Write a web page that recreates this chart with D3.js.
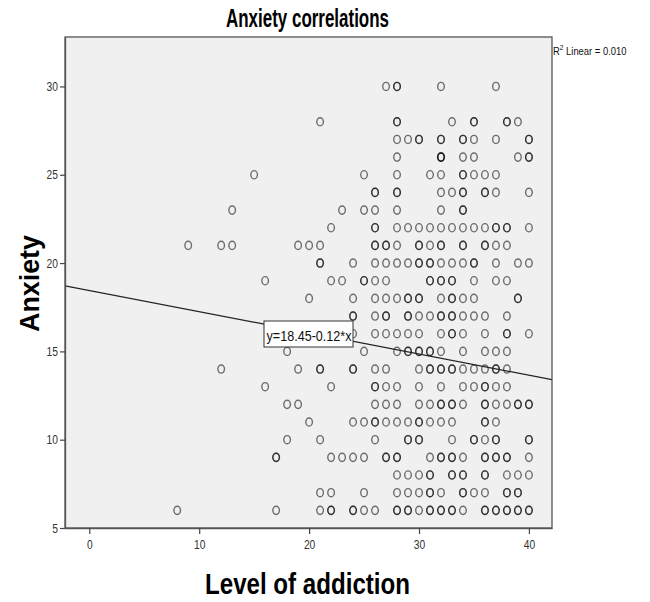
<!DOCTYPE html>
<html><head><meta charset="utf-8">
<script src="https://cdn.jsdelivr.net/npm/d3@7"></script>
<style>
body{margin:0;background:#fff;}
text{font-family:"Liberation Sans Narrow","Arial Narrow","Liberation Sans",sans-serif;}
</style></head>
<body><svg id="c" width="650" height="602"></svg>
<script>
const title = "Anxiety correlations";
const xLabel = "Level of addiction";
const yLabel = "Anxiety";
const xTicks = [0, 10, 20, 30, 40];
const yTicks = [5, 10, 15, 20, 25, 30];
const fitIntercept = 18.45;
const fitSlope = -0.12;
const fitLabel = "y=18.45-0.12*x";
const r2Label = "0.010";
// anxiety levels and the addiction scores observed at each level (repeats = overlapping cases)
const anxietyLevels = [30, 28, 27, 26, 25, 24, 23, 22, 21, 20, 19, 18, 17, 16, 15, 14, 13, 12, 11, 10, 9, 8, 7, 6];
const addictionByLevel = [
  [27, 28, 28, 32, 37],
  [21, 28, 28, 33, 35, 35, 38, 38, 39],
  [28, 29, 30, 30, 32, 32, 34, 34, 35, 37, 40, 40],
  [28, 32, 32, 32, 34, 35, 39, 40, 40],
  [15, 25, 28, 31, 32, 34, 34, 35, 36, 37],
  [26, 26, 28, 28, 32, 33, 34, 34, 36, 36, 37, 40],
  [13, 23, 25, 26, 28, 32, 34, 34],
  [22, 26, 26, 28, 29, 30, 31, 32, 33, 34, 35, 36, 37, 37, 38, 38, 40],
  [9, 12, 13, 19, 20, 21, 26, 26, 27, 27, 28, 30, 30, 31, 32, 32, 34, 34, 36, 36, 37, 38],
  [21, 21, 24, 26, 27, 28, 29, 30, 30, 31, 31, 32, 33, 34, 35, 35, 37, 39, 40],
  [16, 22, 23, 25, 25, 26, 27, 31, 31, 32, 32, 33, 33, 35, 37, 38],
  [20, 24, 26, 27, 28, 29, 29, 30, 30, 32, 33, 33, 34, 35, 39, 39],
  [24, 24, 26, 27, 27, 29, 29, 30, 31, 32, 32, 33, 33, 34, 35, 36, 38],
  [24, 26, 27, 28, 29, 30, 32, 33, 33, 34, 36, 38, 38, 40],
  [18, 25, 28, 29, 29, 30, 30, 31, 31, 32, 34, 36, 37, 38],
  [12, 19, 21, 21, 24, 24, 26, 27, 30, 31, 31, 32, 32, 33, 33, 34, 35, 36, 37, 37, 38],
  [16, 22, 26, 26, 27, 28, 30, 32, 34, 35, 36, 36, 37, 38],
  [18, 19, 26, 27, 28, 30, 31, 32, 32, 33, 33, 34, 36, 36, 37, 38, 39, 39, 40, 40],
  [20, 24, 25, 26, 26, 27, 28, 29, 30, 30, 31, 32, 33, 36, 36, 37],
  [18, 21, 26, 29, 29, 30, 30, 33, 35, 35, 36, 37, 37, 40, 40],
  [17, 17, 22, 23, 24, 25, 27, 27, 28, 28, 31, 32, 32, 33, 33, 34, 36, 36, 37, 37, 38, 38, 40],
  [28, 29, 30, 31, 31, 33, 33, 34, 34, 36, 36, 38, 39, 40],
  [21, 22, 25, 28, 29, 30, 31, 31, 32, 34, 34, 35, 36, 38, 38, 39, 39],
  [8, 17, 21, 22, 22, 24, 24, 25, 26, 28, 28, 29, 29, 30, 31, 31, 32, 32, 33, 33, 34, 36, 36, 37, 37, 38, 38, 39, 39, 40, 40]
];

const points = [];
anxietyLevels.forEach((y, i) => addictionByLevel[i].forEach(x => points.push({x, y})));

const W = 650, H = 602;
const m = {left: 65, right: 98, top: 37, bottom: 74};
const svg = d3.select("#c");
const x = d3.scaleLinear().domain([-2.21, 42.1]).range([m.left, W - m.right]);
const y = d3.scaleLinear().domain([5, 32.8]).range([H - m.bottom, m.top]);

svg.append("rect").attr("x", m.left).attr("y", m.top)
  .attr("width", W - m.left - m.right).attr("height", H - m.top - m.bottom)
  .attr("fill", "#f0f0f0");

svg.append("clipPath").attr("id", "pc").append("rect")
  .attr("x", m.left).attr("y", m.top)
  .attr("width", W - m.left - m.right).attr("height", H - m.top - m.bottom);

const g = svg.append("g").attr("clip-path", "url(#pc)");
g.selectAll("ellipse").data(points).join("ellipse")
  .attr("cx", d => x(d.x)).attr("cy", d => y(d.y))
  .attr("rx", 3.3).attr("ry", 4.1)
  .attr("fill", "none").attr("stroke", "#000").attr("stroke-opacity", 0.55)
  .attr("stroke-width", 1.4);

const xd = x.domain();
g.append("line")
  .attr("x1", x(xd[0])).attr("y1", y(fitIntercept + fitSlope * xd[0]))
  .attr("x2", x(xd[1])).attr("y2", y(fitIntercept + fitSlope * xd[1]))
  .attr("stroke", "#222").attr("stroke-width", 1.3);

// frame
svg.append("rect").attr("x", m.left).attr("y", m.top)
  .attr("width", W - m.left - m.right).attr("height", H - m.top - m.bottom)
  .attr("fill", "none").attr("stroke", "#555").attr("stroke-width", 1.3);

const xAxis = svg.append("g").attr("transform", `translate(0,${H - m.bottom})`)
  .call(d3.axisBottom(x).tickValues(xTicks).tickSize(6).tickSizeOuter(0).tickPadding(6));
const yAxis = svg.append("g").attr("transform", `translate(${m.left},0)`)
  .call(d3.axisLeft(y).tickValues(yTicks).tickSize(5).tickSizeOuter(0).tickPadding(2));
[xAxis, yAxis].forEach(a => {
  a.select(".domain").attr("stroke", "#555").attr("stroke-width", 1.3);
  a.selectAll(".tick line").attr("stroke", "#444").attr("stroke-width", 1.2);
  a.selectAll(".tick text").attr("font-size", 12.5).attr("fill", "#333")
    .style("font-family", '"Liberation Sans Narrow","Arial Narrow","Liberation Sans",sans-serif')
    .each(function() { const w = this.getComputedTextLength(); d3.select(this).attr("textLength", w * 0.82).attr("lengthAdjust", "spacingAndGlyphs"); });
});

// fit label box
const lbl = svg.append("g");
lbl.append("rect").attr("x", 264).attr("y", 321).attr("width", 89).attr("height", 26)
  .attr("fill", "#fff").attr("stroke", "#333").attr("stroke-width", 1);
lbl.append("text").attr("x", 266.5).attr("y", 340.5).attr("font-size", 14).attr("fill", "#111")
  .attr("textLength", 85).attr("lengthAdjust", "spacingAndGlyphs").text(fitLabel);

// R2 label
const r2 = svg.append("text").attr("x", 553).attr("y", 55).attr("font-size", 11.5).attr("fill", "#111")
  .attr("transform", "translate(553,0) scale(0.82,1) translate(-553,0)");
r2.append("tspan").text("R");
r2.append("tspan").attr("dy", -5).attr("font-size", 8).text("2");
r2.append("tspan").attr("dy", 5).text(" Linear = " + r2Label);

svg.append("text").attr("x", 226).attr("y", 27).attr("font-size", 26).attr("font-weight", "bold")
  .attr("fill", "#000").attr("textLength", 163).attr("lengthAdjust", "spacingAndGlyphs").text(title);
svg.append("text").attr("x", 205).attr("y", 594).attr("font-size", 30).attr("font-weight", "bold")
  .attr("fill", "#000").attr("textLength", 205).attr("lengthAdjust", "spacingAndGlyphs").text(xLabel);
svg.append("text").attr("transform", "translate(39,332) rotate(-90)").attr("font-size", 27)
  .attr("font-weight", "bold").attr("fill", "#000").attr("textLength", 97).attr("lengthAdjust", "spacingAndGlyphs").text(yLabel);
</script></body></html>
